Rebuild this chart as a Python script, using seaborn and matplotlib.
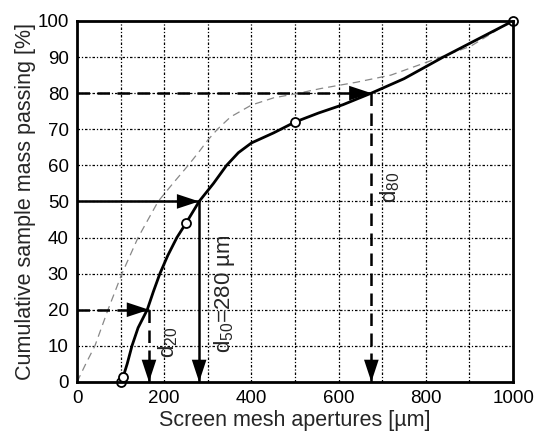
import matplotlib
matplotlib.use("Agg")
import matplotlib.pyplot as plt
import seaborn as sns
import pandas as pd

# Measured sample points (circles)
meas_x = [100, 106, 250, 500, 1000]
meas_y = [0, 1.5, 44, 72, 100]

# Solid fitted curve
curve_x = [106, 115, 126, 140, 161, 175, 190, 208, 229, 250, 265, 280, 313, 343,
           370, 400, 451, 500, 554, 610, 675, 750, 840, 920, 1000]
curve_y = [1.5, 5, 10, 15, 20, 25, 30, 35, 40, 44, 47, 50, 55, 60,
           63.5, 66.2, 69, 72, 74.5, 76.8, 80, 84, 90, 95, 100]

# Thin gray dashed reference curve
ref_x = [0, 20, 41, 71, 103, 140, 186, 220, 255, 280, 300, 322, 352, 400, 451,
         501, 560, 640, 720, 805, 903, 957, 990]
ref_y = [0, 5, 10, 20, 30, 40, 50, 55, 60, 63.8, 67, 70, 73.4, 76.7, 78.7,
         79.8, 81.3, 83, 85, 88.7, 93, 97, 99.5]

# Characteristic sizes
d_labels = ["d$_{20}$", "d$_{50}$=280 \u00b5m", "d$_{80}$"]
d_pct = [20, 50, 80]
d_size = [165, 280, 675]
d_styles = ["dashed", "solid", "dashed"]
d_label_pos = [(208, 11), (338, 24.5), (718, 54)]

x_ticks = [0, 200, 400, 600, 800, 1000]
y_ticks = [0, 10, 20, 30, 40, 50, 60, 70, 80, 90, 100]

sns.set_style("white")
plt.rcParams["font.family"] = ["Liberation Sans", "DejaVu Sans"]
plt.rcParams["mathtext.fontset"] = "custom"
plt.rcParams["mathtext.rm"] = "Liberation Sans"
plt.rcParams["mathtext.it"] = "Liberation Sans"

fig = plt.figure(figsize=(5.35, 4.36), dpi=100)
ax = fig.add_axes([0.144, 0.124, 0.815, 0.828])

ax.set_xlim(0, 1000)
ax.set_ylim(0, 100)

# grid
grid_ls = (0, (2, 1.5, 1, 1.5))
for gx in range(100, 1000, 100):
    ax.axvline(gx, color="black", lw=0.9, ls=grid_ls, zorder=1)
for gy in range(10, 100, 10):
    ax.axhline(gy, color="black", lw=0.9, ls=grid_ls, zorder=1)

df_ref = pd.DataFrame({"x": ref_x, "y": ref_y})
sns.lineplot(data=df_ref, x="x", y="y", ax=ax, color="#888888", lw=0.9,
             linestyle=(0, (6, 4)), sort=False, zorder=2)

df_curve = pd.DataFrame({"x": curve_x, "y": curve_y})
sns.lineplot(data=df_curve, x="x", y="y", ax=ax, color="black", lw=2,
             sort=False, zorder=3)

# characteristic arrows
head = "-|>,head_length=1.0,head_width=0.33"
for lab, p, d, st, pos in zip(d_labels, d_pct, d_size, d_styles, d_label_pos):
    ls = (0, (5, 3)) if st == "dashed" else "-"
    ax.plot([0, d], [p, p], color="black", lw=1.8, ls=ls, zorder=4)
    ax.plot([d, d], [p, 0], color="black", lw=1.8, ls=ls, zorder=4)
    ax.annotate("", xy=(d, p), xytext=(d - 50, p),
                arrowprops=dict(arrowstyle=head, mutation_scale=16,
                                color="black", lw=0, shrinkA=0, shrinkB=0),
                zorder=5)
    ax.annotate("", xy=(d, 0), xytext=(d, 10),
                arrowprops=dict(arrowstyle=head, mutation_scale=16,
                                color="black", lw=0, shrinkA=0, shrinkB=0),
                zorder=5)
    ax.text(pos[0], pos[1], lab, rotation=90, fontsize=16, ha="center",
            va="center", zorder=6)

df_meas = pd.DataFrame({"x": meas_x, "y": meas_y})
sns.scatterplot(data=df_meas, x="x", y="y", ax=ax, s=42, color="white",
                edgecolor="black", linewidth=1.3, zorder=7, clip_on=False)

ax.set_xticks(x_ticks)
ax.set_yticks(y_ticks)
ax.tick_params(axis="both", length=0, labelsize=13.5, pad=6, colors="black")
ax.set_xlabel("Screen mesh apertures [\u00b5m]", fontsize=15.5, labelpad=2)
ax.set_ylabel("Cumulative sample mass passing [%]", fontsize=15.5, labelpad=1)
for sp in ax.spines.values():
    sp.set_visible(True)
    sp.set_linewidth(2)
    sp.set_color("black")
    sp.set_zorder(8)

fig.savefig("out.png", dpi=100)
